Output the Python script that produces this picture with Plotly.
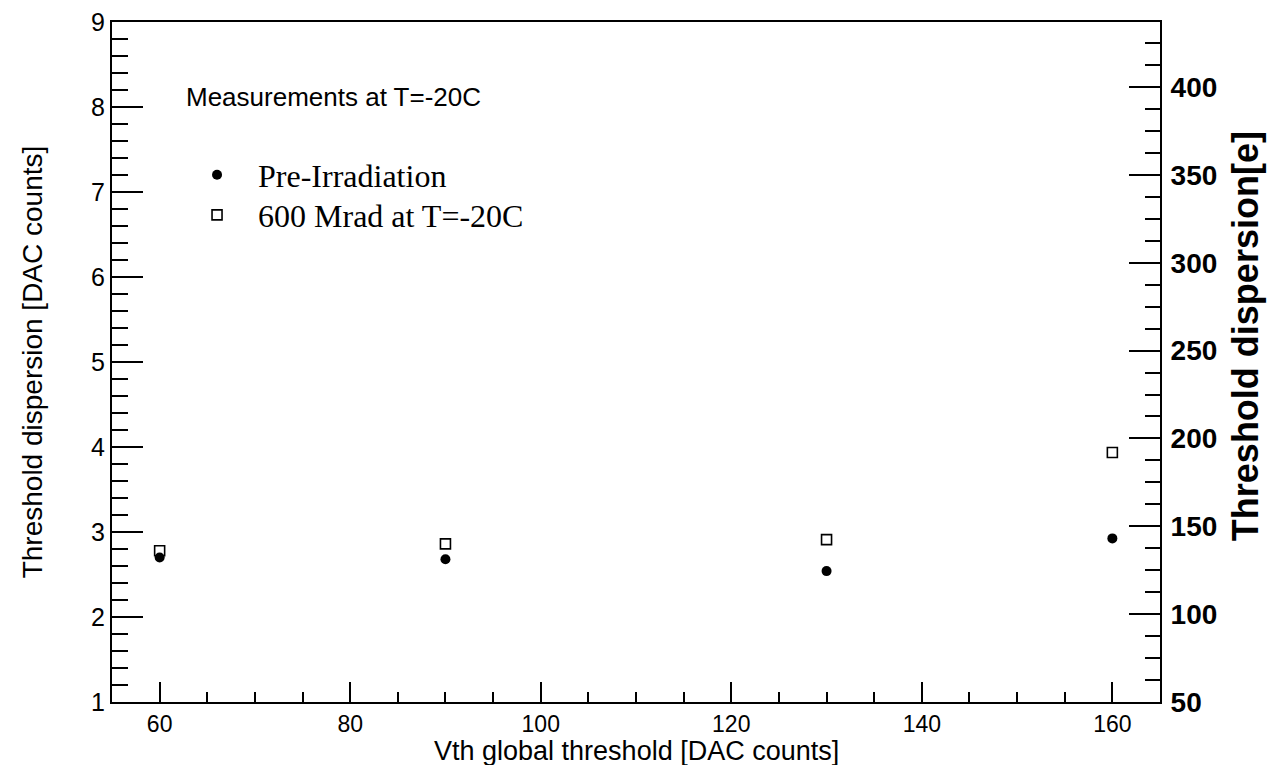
import plotly.graph_objects as go

# Global threshold settings (DAC counts)
vth = [60, 90, 130, 160]

# Threshold dispersion in DAC counts
pre_irradiation = [2.70, 2.68, 2.54, 2.925]
mrad_600 = [2.78, 2.86, 2.91, 3.935]

# Right-hand axis in electrons
e_range = [50, 437]

SANS = "Liberation Sans, Arial, Helvetica, sans-serif"
SERIF = "Liberation Serif, Times New Roman, serif"

fig = go.Figure()

fig.add_trace(go.Scatter(
    x=vth, y=pre_irradiation, mode="markers", name="Pre-Irradiation",
    marker=dict(symbol="circle", size=10, color="black", line=dict(width=0)),
    legend="legend", showlegend=True,
))
fig.add_trace(go.Scatter(
    x=vth, y=mrad_600, mode="markers", name="600 Mrad at T=-20C",
    marker=dict(symbol="square-open", size=10, color="black", line=dict(width=1.6)),
    legend="legend2", showlegend=True,
))
# empty trace so the electron axis is laid out
fig.add_trace(go.Scatter(x=[], y=[], yaxis="y2", showlegend=False, hoverinfo="skip"))

axis_line = dict(showline=True, linecolor="black", linewidth=2, showgrid=False,
                 zeroline=False, ticks="inside", tickcolor="black", tickwidth=2,
                 automargin=False)

legend_common = dict(
    xanchor="left", yanchor="middle", bgcolor="rgba(0,0,0,0)", borderwidth=0,
    font=dict(family=SERIF, size=32), itemwidth=72, visible=True,
)

fig.update_layout(
    width=1275, height=765,
    margin=dict(l=112, r=115, t=22, b=63),
    paper_bgcolor="white", plot_bgcolor="white",
    font=dict(family=SANS, color="black"),
    showlegend=True,
    xaxis=dict(
        **axis_line, range=[55, 165], tickvals=[60, 80, 100, 120, 140, 160],
        ticklen=20, mirror=True,
        minor=dict(ticks="inside", dtick=5, tick0=55, ticklen=10, tickwidth=2, tickcolor="black"),
        tickfont=dict(size=23),
    ),
    yaxis=dict(
        **axis_line, range=[1, 9], tick0=1, dtick=1, ticklen=31,
        minor=dict(ticks="inside", dtick=0.2, tick0=1, ticklen=16, tickwidth=2, tickcolor="black"),
        tickfont=dict(size=25),
        title=dict(text="Threshold dispersion [DAC counts]", font=dict(size=28), standoff=40),
    ),
    yaxis2=dict(
        **axis_line, overlaying="y", side="right", anchor="x",
        range=e_range, tick0=50, dtick=50, ticklen=31,
        minor=dict(ticks="inside", dtick=12.5, tick0=50, ticklen=15, tickwidth=2, tickcolor="black"),
        tickfont=dict(size=28, weight="bold"), ticklabelstandoff=3,
    ),
    legend=dict(**legend_common, x=0.0611, y=0.775),
    legend2=dict(**legend_common, x=0.0611, y=0.716),
    annotations=[
        dict(
            text="Measurements at T=-20C", xref="paper", yref="paper",
            x=0.069, y=0.889, xanchor="left", yanchor="middle", showarrow=False,
            font=dict(family=SANS, size=26),
        ),
        # title of the DAC-count scale along x
        dict(
            text="Vth global threshold [DAC counts]", xref="paper", yref="paper",
            x=0.5, y=-0.0721, xanchor="center", yanchor="middle", showarrow=False,
            font=dict(family=SANS, size=27),
        ),
        # title of the electron scale
        dict(
            text="Threshold dispersion[e]", xref="paper", yref="paper",
            x=1.0811, y=0.538, xanchor="center", yanchor="middle", showarrow=False,
            textangle=-90, font=dict(family=SANS, size=36, weight="bold"),
        ),
    ],
)

fig.write_html("out.html")
